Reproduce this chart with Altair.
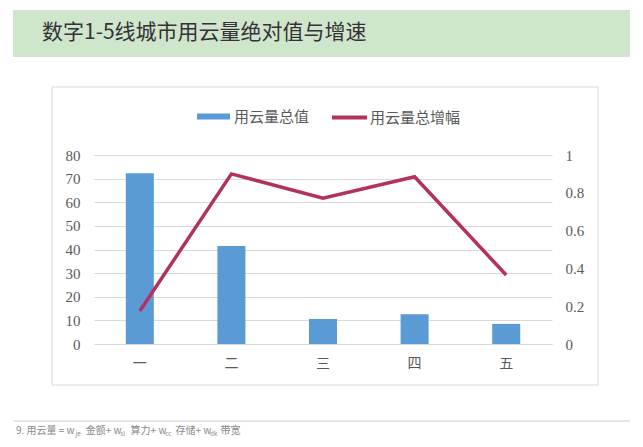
import altair as alt
import pandas as pd

# ---- data ----
cats = ["一", "二", "三", "四", "五"]
values = [72.3, 41.5, 10.6, 12.6, 8.5]
growth = [0.175, 0.90, 0.772, 0.885, 0.365]
bar_name = "用云量总值"
line_name = "用云量总增幅"
left_ticks = [0, 10, 20, 30, 40, 50, 60, 70, 80]
right_ticks = [0, 0.2, 0.4, 0.6, 0.8, 1]
title_text = "数字1-5线城市用云量绝对值与增速"
footer_parts = [("9. 用云量 = w", False), ("je", True), (" 金额+ w", False), ("sl", True),
                (" 算力+ w", False), ("cc", True), (" 存储+ w", False), ("dk", True), (" 带宽", False)]

df = pd.DataFrame({"cat": cats, "value": values, "growth": growth,
                   "s1": bar_name, "s2": line_name})
one = pd.DataFrame({"k": [0]})

# ---- layout (page pixels -> plot-relative) ----
PL, PT, W, H = 86, 147, 458, 189
PR, PB = 83, 94


def px(x):
    return x - 8 - PL


def py(y):
    return y - 8 - PT


SERIF = "Liberation Serif"
CJK = "Noto Sans CJK SC"
GREY = "#595959"

band = alt.Chart(one).mark_rect(color="#cfe6cc").encode(
    x=alt.value(px(13)), x2=alt.value(px(630)), y=alt.value(py(10)), y2=alt.value(py(57)))
border = alt.Chart(one).mark_rect(filled=False, stroke="#d9d9d9", strokeWidth=1).encode(
    x=alt.value(px(52)), x2=alt.value(px(598)), y=alt.value(py(87)), y2=alt.value(py(385)))
title = alt.Chart(one).mark_text(text=title_text, align="left", baseline="middle",
                                 fontSize=21, font=CJK, color="#333333").encode(
    x=alt.value(px(42)), y=alt.value(py(33)))
frule = alt.Chart(one).mark_rule(color="#cccccc", strokeWidth=1).encode(
    x=alt.value(px(13)), x2=alt.value(px(630)), y=alt.value(py(421)))


def text_w(s, fs):
    w = 0.0
    for c in s:
        if ord(c) > 0x2E80:
            w += fs
        elif c in " .":
            w += fs * 0.3
        else:
            w += fs * 0.58
    return w


footer_layers = []
cx = 16.0
for txt, sub in footer_parts:
    fs = 6.3 if sub else 10
    lead = len(txt) - len(txt.lstrip(" "))
    start = cx + text_w(" " * lead, fs)
    footer_layers.append(
        alt.Chart(one).mark_text(text=txt.strip(), align="left", baseline="middle",
                                 fontSize=fs, font=CJK, color="#8a8a8a").encode(
            x=alt.value(px(start)), y=alt.value(py(434 if sub else 431))))
    cx += text_w(txt, fs)

x_enc = alt.X("cat:N", sort=cats,
              scale=alt.Scale(paddingInner=0.694, paddingOuter=0.347),
              axis=alt.Axis(title=None, labelAngle=0, domainColor="#d9d9d9", ticks=False,
                            labelPadding=12, labelFont=CJK, labelFontSize=14,
                            labelColor=GREY))

bars = alt.Chart(df).mark_bar().encode(
    x=x_enc,
    y=alt.Y("value:Q", scale=alt.Scale(domain=[0, 80]),
            axis=alt.Axis(title=None, values=left_ticks, grid=True, gridColor="#d9d9d9",
                          domain=False, ticks=False, labelPadding=14, labelFont=SERIF,
                          labelFontSize=15, labelColor=GREY)),
    fill=alt.Fill("s1:N", scale=alt.Scale(range=["#5b9bd5"]),
                  legend=alt.Legend(title=None, orient="none", legendX=px(197), legendY=py(100),
                                    symbolType="M-1,-0.18H1V0.18H-1Z", symbolSize=1089,
                                    symbolStrokeWidth=0, labelFont=CJK, labelFontSize=15,
                                    labelColor=GREY, labelOffset=4)),
)

line = alt.Chart(df).mark_line(strokeWidth=3.5).encode(
    x=x_enc,
    y=alt.Y("growth:Q", scale=alt.Scale(domain=[0, 1]),
            axis=alt.Axis(title=None, orient="right", values=right_ticks, format="~g",
                          grid=False, domain=False, ticks=False, labelPadding=13,
                          labelFont=SERIF, labelFontSize=15, labelColor=GREY)),
    stroke=alt.Stroke("s2:N", scale=alt.Scale(range=["#b3315f"]),
                      legend=alt.Legend(title=None, orient="none", legendX=px(330), legendY=py(98),
                                        symbolType="stroke", symbolSize=1225,
                                        symbolStrokeWidth=4, labelFont=CJK, labelFontSize=15,
                                        labelColor=GREY, labelOffset=1)),
)

chart = alt.layer(band, border, title, frule, *footer_layers, bars, line).resolve_scale(
    y="independent", x="shared"
).properties(
    width=W, height=H,
    padding={"left": PL, "top": PT, "right": PR, "bottom": PB},
    autosize=alt.AutoSizeParams(type="none"),
    background="white",
).configure_view(stroke=None)

chart.save("out.html", embed_options={"renderer": "svg", "actions": False})
